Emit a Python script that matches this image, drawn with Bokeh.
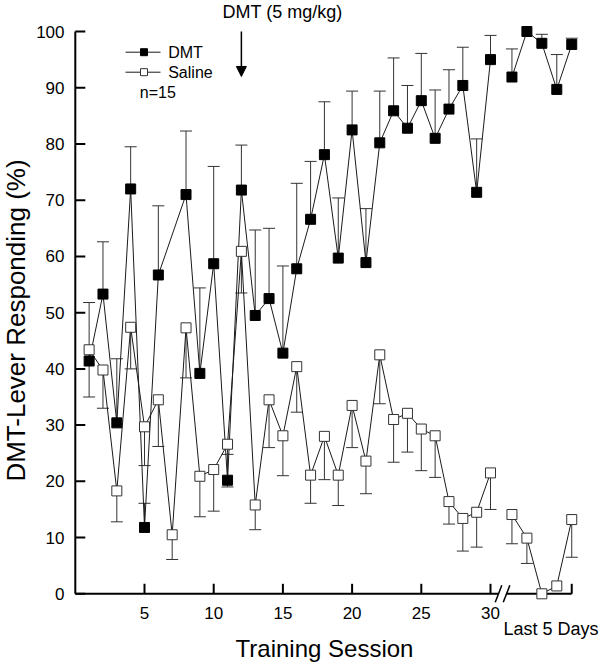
import math
from bokeh.plotting import figure
from bokeh.models import (Range1d, Whisker, ColumnDataSource, Arrow, NormalHead, TeeHead)
from bokeh.core.properties import value
from bokeh.embed import file_html
from bokeh.resources import INLINE

# ---------------- data ----------------
dmt_sessions = [1, 2, 3, 4, 5, 6, 8, 9, 10, 11, 12, 13, 14, 15, 16, 17, 18, 19, 20,
                21, 22, 23, 24, 25, 26, 27, 28, 29, 30]
dmt_mean = [41.4, 53.3, 30.4, 72.0, 11.8, 56.7, 71.0, 39.2, 58.7, 20.2, 71.8, 49.5,
            52.5, 42.8, 57.8, 66.6, 78.1, 59.7, 82.5, 58.9, 80.2, 85.9, 82.8, 87.7,
            81.0, 86.2, 90.4, 71.4, 95.0]
dmt_err = [10.4, 9.3, 11.4, 7.5, 4.3, 12.3, 11.3, 15.2, 17.3, 4.6, 8.0, 15.2, 12.5,
           15.5, 15.2, 10.3, 9.4, 10.7, 6.9, 9.6, 9.2, 9.4, 7.6, 8.4, 8.6, 7.0, 6.8,
           9.5, 4.3]

sal_sessions = list(range(1, 31))
sal_mean = [43.4, 39.8, 18.3, 47.4, 29.7, 34.5, 10.5, 47.3, 20.9, 22.1, 26.6, 60.9,
            15.8, 34.5, 28.1, 40.4, 21.1, 28.0, 21.1, 33.5, 23.6, 42.5, 31.0, 32.1,
            29.3, 28.1, 16.4, 13.4, 14.5, 21.5]
sal_err = [8.4, 6.8, 5.5, 7.4, 6.9, 8.3, 4.4, 8.9, 7.2, 7.4, 7.6, 7.4, 4.4, 8.5, 7.1,
           8.1, 5.0, 7.7, 5.4, 7.5, 5.8, 8.7, 7.6, 6.9, 7.4, 7.4, 4.0, 5.8, 6.2, 6.5]

last_x = [31.55, 32.63, 33.71, 34.79, 35.87]
last_dmt_mean = [91.9, 100.0, 97.9, 89.7, 97.7]
last_dmt_err = [5.0, 0.0, 1.6, 6.2, 1.1]
last_sal_mean = [14.1, 9.9, 0.0, 1.4, 13.2]
last_sal_err = [5.2, 4.5, 0.0, 0.0, 6.7]

x_ticks = [5, 10, 15, 20, 25, 30]
x_tick_labels = ["5", "10", "15", "20", "25", "30"]
x_end = 35.87
y_ticks = [0, 10, 20, 30, 40, 50, 60, 70, 80, 90, 100]
y_tick_labels = ["0", "10", "20", "30", "40", "50", "60", "70", "80", "90", "100"]
break_at = [30.58, 31.16]

FONT = "Liberation Sans"

# ---------------- layout: the frame fills the whole canvas ----------------
W, H = 603, 666
X0PX, PXX = 74.8, 13.84     # pixel of x=0, pixels per session
Y0PX, PXY = 593.3, 5.623    # pixel of y=0, pixels per percent


def dx(px):
    return (px - X0PX) / PXX


def dy(py):
    return (Y0PX - py) / PXY


p = figure(width=W, height=H, x_range=Range1d(dx(0), dx(W)), y_range=Range1d(dy(H), dy(0)),
           min_border=0, output_backend="svg", toolbar_location=None,
           outline_line_color=None, background_fill_color="white",
           border_fill_color="white")
p.grid.visible = False
p.xaxis.visible = False
p.yaxis.visible = False

# ---------------- hand-drawn axes with break ----------------
AX = dict(line_color="black", line_width=2)
p.segment(x0=[0], y0=[0], x1=[0], y1=[100], **AX)
p.segment(x0=[0, break_at[1]], y0=[0, 0], x1=[break_at[0], x_end], y1=[0, 0], **AX)
tick_len_x = 10 / PXX
tick_len_y = 10 / PXY
p.segment(x0=[0] * len(y_ticks), y0=y_ticks, x1=[tick_len_x] * len(y_ticks), y1=y_ticks, **AX)
xt = x_ticks + [x_end]
p.segment(x0=xt, y0=[0] * len(xt), x1=xt, y1=[tick_len_y] * len(xt), **AX)
sdx = 3.3 / PXX
sdy = 8.5 / PXY
p.segment(x0=[b - sdx for b in break_at], y0=[-sdy] * 2,
          x1=[b + sdx for b in break_at], y1=[sdy] * 2, line_color="black", line_width=1.5)

TXT = dict(text_font=value(FONT), text_color="black", text_baseline="middle")

# tick labels
p.text(x=[dx(64)] * len(y_ticks), y=y_ticks, text=y_tick_labels,
       text_font_size="17px", text_align="right", **TXT)
p.text(x=x_ticks, y=[dy(612)] * len(x_ticks), text=x_tick_labels,
       text_font_size="17px", text_align="center", **TXT)

# ---------------- connecting lines ----------------
LN = dict(line_color="#1a1a1a", line_width=1)
p.line(dmt_sessions, dmt_mean, **LN)
p.line(sal_sessions, sal_mean, **LN)
p.line(last_x, last_dmt_mean, **LN)
p.line(last_x, last_sal_mean, **LN)


# ---------------- error bars ----------------
def whisk(xs, means, errs, up):
    xx, lo, hi = [], [], []
    for x, m, e in zip(xs, means, errs):
        if e <= 0:
            continue
        xx.append(x)
        if up:
            lo.append(m); hi.append(m + e)
        else:
            lo.append(m - e); hi.append(m)
    src = ColumnDataSource(dict(x=xx, lower=lo, upper=hi))
    head = TeeHead(size=12, line_color="#333333", line_width=1)
    w = Whisker(source=src, base="x", lower="lower", upper="upper", dimension="height",
                line_color="#333333", line_width=1, level="underlay")
    if up:
        w.upper_head = head
        w.lower_head = None
    else:
        w.lower_head = head
        w.upper_head = None
    p.add_layout(w)


whisk(dmt_sessions, dmt_mean, dmt_err, True)
whisk(last_x, last_dmt_mean, last_dmt_err, True)
whisk(sal_sessions, sal_mean, sal_err, False)
whisk(last_x, last_sal_mean, last_sal_err, False)

# ---------------- markers ----------------
OPEN = dict(marker="square", size=10, fill_color="white", line_color="#333333", line_width=1)
FILL = dict(marker="square", size=10, fill_color="black", line_color="black", line_width=1)
p.scatter(sal_sessions, sal_mean, **OPEN)
p.scatter(last_x, last_sal_mean, **OPEN)
p.scatter(dmt_sessions, dmt_mean, **FILL)
p.scatter(last_x, last_dmt_mean, **FILL)

# ---------------- legend (drawn) ----------------
leg_y = [dy(51.7), dy(71.7)]
p.segment(x0=[dx(125)] * 2, y0=leg_y, x1=[dx(160)] * 2, y1=leg_y, **LN)
p.scatter([dx(143.5)], [leg_y[0]], marker="square", size=7, fill_color="black",
          line_color="black")
p.scatter([dx(143.5)], [leg_y[1]], marker="square", size=7, fill_color="white",
          line_color="#333333", line_width=1)
p.text(x=[dx(167.7)] * 2, y=leg_y, text=["DMT", "Saline"], text_font_size="16px", **TXT)
p.text(x=[dx(139.3)], y=[dy(91.7)], text=["n=15"], text_font_size="16px", **TXT)

# ---------------- annotations ----------------
p.add_layout(Arrow(x_start=12, y_start=100, x_end=12, y_end=92, line_width=1.5,
                   line_color="black",
                   end=NormalHead(size=10, fill_color="black", line_color="black")))
p.text(x=[dx(222)], y=[dy(11.5)], text=["DMT (5 mg/kg)"], text_font_size="18px",
       text_align="left", **TXT)
p.text(x=[dx(324)], y=[dy(648)], text=["Training Session"], text_font_size="24px",
       text_align="center", **TXT)
p.text(x=[dx(550.5)], y=[dy(628.5)], text=["Last 5 Days"], text_font_size="18px",
       text_align="center", **TXT)
p.text(x=[dx(15.5)], y=[dy(320)], text=["DMT-Lever Responding (%)"], text_font_size="26px",
       text_align="center", angle=math.pi / 2, **TXT)

open("out.html", "w").write(file_html(p, INLINE))
